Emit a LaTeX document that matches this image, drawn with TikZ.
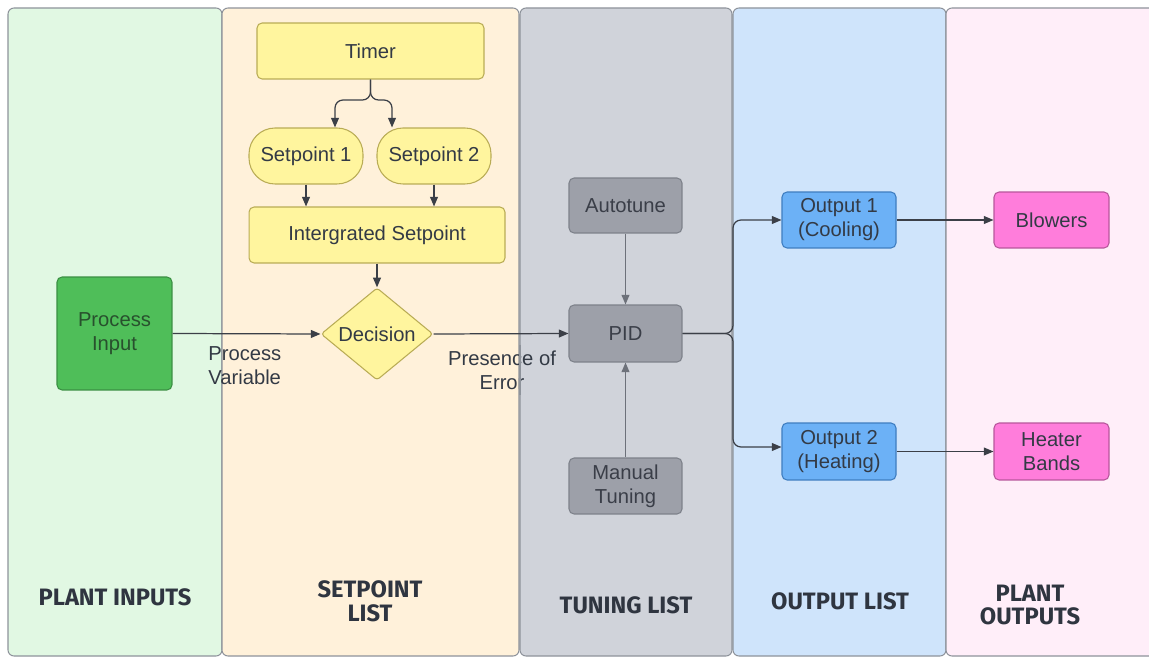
\documentclass[tikz,border=0pt]{standalone}
\usepackage{fontspec}
\setmainfont{Liberation Sans}
\newfontfamily\hdrfont{Fira Sans}
\usetikzlibrary{arrows.meta,shapes.geometric,shapes.misc}
\definecolor{laneA}{HTML}{E1F8E3}
\definecolor{laneB}{HTML}{FFF1DA}
\definecolor{laneC}{HTML}{D0D3DA}
\definecolor{laneD}{HTML}{CFE4FB}
\definecolor{laneE}{HTML}{FFEEF9}
\definecolor{laneline}{HTML}{8E939B}
\definecolor{txt}{HTML}{333A45}
\definecolor{yfill}{HTML}{FFF59E}
\definecolor{ydraw}{HTML}{B9AC55}
\definecolor{gfill}{HTML}{4FBE59}
\definecolor{gdraw}{HTML}{3A8F43}
\definecolor{grfill}{HTML}{9DA0A9}
\definecolor{grdraw}{HTML}{7D818A}
\definecolor{bfill}{HTML}{6CB1F6}
\definecolor{bdraw}{HTML}{3E7DC0}
\definecolor{pfill}{HTML}{FF7DDB}
\definecolor{pdraw}{HTML}{B8569C}
\definecolor{conn}{HTML}{3B3F47}
\definecolor{gconn}{HTML}{6D717A}
\tikzset{
  lane/.style={draw=laneline, line width=0.6pt, rounded corners=0.12cm},
  box/.style={draw, line width=0.6pt, rounded corners=0.1cm, minimum width=2.28cm, minimum height=1.12cm, inner sep=0pt, align=center, text=txt, font=\fontsize{11.5}{13.7}\selectfont},
  ybox/.style={box, fill=yfill, draw=ydraw},
  gbox/.style={box, fill=gfill, draw=gdraw, text={rgb,255:red,40;green,80;blue,45}},
  grbox/.style={box, fill=grfill, draw=grdraw, text={rgb,255:red,58;green,62;blue,72}},
  bbox/.style={box, fill=bfill, draw=bdraw},
  pbox/.style={box, fill=pfill, draw=pdraw},
  hdr/.style={text={rgb,255:red,47;green,53;blue,64}, align=center, font=\hdrfont\bfseries\fontsize{13.5}{13.5}\selectfont},
  lbl/.style={text=txt, inner sep=0pt, font=\fontsize{11.5}{13.7}\selectfont},
  arr/.style={draw=conn, line width=0.7pt, -{Triangle[length=5.5pt,width=4.5pt]}},
  garr/.style={draw=gconn, line width=0.7pt, -{Triangle[length=5.5pt,width=4.5pt]}}
}
\begin{document}
\begin{tikzpicture}[x=0.02cm,y=-0.02cm]
\useasboundingbox (0,0) rectangle (1149,658);
\fill[white] (0,0) rectangle (1149,658);
\begin{scope}
\clip (0,0) rectangle (1149,658);
\filldraw[lane, fill=laneA] (8,8) rectangle (222,656);
\filldraw[lane, fill=laneB] (222,8) rectangle (519,656);
\filldraw[lane, fill=laneC] (520,8) rectangle (732,656);
\filldraw[lane, fill=laneD] (733,8) rectangle (946,656);
\filldraw[lane, fill=laneE] (946,8) rectangle (1165,656);
\end{scope}

% headers
\node[hdr] (h1) at (115,597) {PLANT INPUTS};
\node[hdr] (h2) at (370,601) {SETPOINT\\LIST};
\node[hdr] (h3) at (626,605) {TUNING LIST};
\node[hdr] (h4) at (840,601) {OUTPUT LIST};
\node[hdr] (h5) at (1030,605) {PLANT\\OUTPUTS};

% nodes
\node[ybox, minimum width=4.54cm] (timer) at (370.5,51) {Timer};
\node[ybox, rounded corners=0.52cm] (sp1) at (306,156) {Setpoint 1};
\node[ybox, rounded corners=0.52cm] (sp2) at (434,156) {Setpoint 2};
\node[ybox, minimum width=5.12cm] (integ) at (377,235) {Intergrated Setpoint};
\node[diamond, draw=ydraw, fill=yfill, line width=0.6pt, rounded corners=0.06cm, inner sep=0pt, minimum width=2.24cm, minimum height=1.64cm, text=txt, font=\fontsize{11.5}{13.7}\selectfont] (dec) at (377,334) {Decision};
\node[gbox, minimum width=2.3cm, minimum height=2.26cm] (pin) at (114.5,333.5) {Process\\Input};
\node[grbox, minimum width=2.26cm, minimum height=1.1cm] (auto) at (625.5,205.5) {Autotune};
\node[grbox, minimum width=2.26cm, minimum height=1.14cm] (pid) at (625.5,333.5) {PID};
\node[grbox, minimum width=2.26cm] (man) at (625.5,486) {Manual\\Tuning};
\node[bbox] (out1) at (839,220) {Output 1\\(Cooling)};
\node[bbox, minimum height=1.14cm] (out2) at (839,451.5) {Output 2\\(Heating)};
\node[pbox, minimum width=2.3cm] (blow) at (1051.5,220) {Blowers};
\node[pbox, minimum width=2.3cm, minimum height=1.14cm] (heat) at (1051.5,451.5) {Heater\\Bands};

% labels
\node[lbl, anchor=west, align=left] (pv) at (208,365.5) {Process\\Variable};
\node[lbl, align=center] (pe) at (502,370) {Presence of\\Error};
\draw[laneline, line width=0.6pt] (520,345) -- (520,395);

% connectors
\coordinate (tj) at (370.5,100);
\draw[arr, rounded corners=0.16cm] (timer.south) -- (tj) -| ([xshift=0.58cm]sp1.north);
\draw[arr, rounded corners=0.16cm] (timer.south) -- (tj) -| ([xshift=-0.84cm]sp2.north);
\draw[arr] (sp1.south) -- (sp1.south |- integ.north);
\draw[arr] (sp2.south) -- (sp2.south |- integ.north);
\draw[arr] (integ.south) -- (dec.north);
\draw[arr] (pin.east) -- (dec.west);
\draw[arr] (dec.east) -- (pid.west);
\draw[garr] (auto.south) -- (pid.north);
\draw[garr] (man.north) -- (pid.south);
\coordinate (ps) at (733,333.5);
\draw[arr, rounded corners=0.16cm] (pid.east) -- (ps) |- (out1.west);
\draw[arr, rounded corners=0.16cm] (pid.east) -- (ps) |- ([yshift=0.09cm]out2.west);
\draw[arr] (out1.east) -- (blow.west);
\draw[arr] (out2.east) -- (heat.west);
\end{tikzpicture}
\end{document}
